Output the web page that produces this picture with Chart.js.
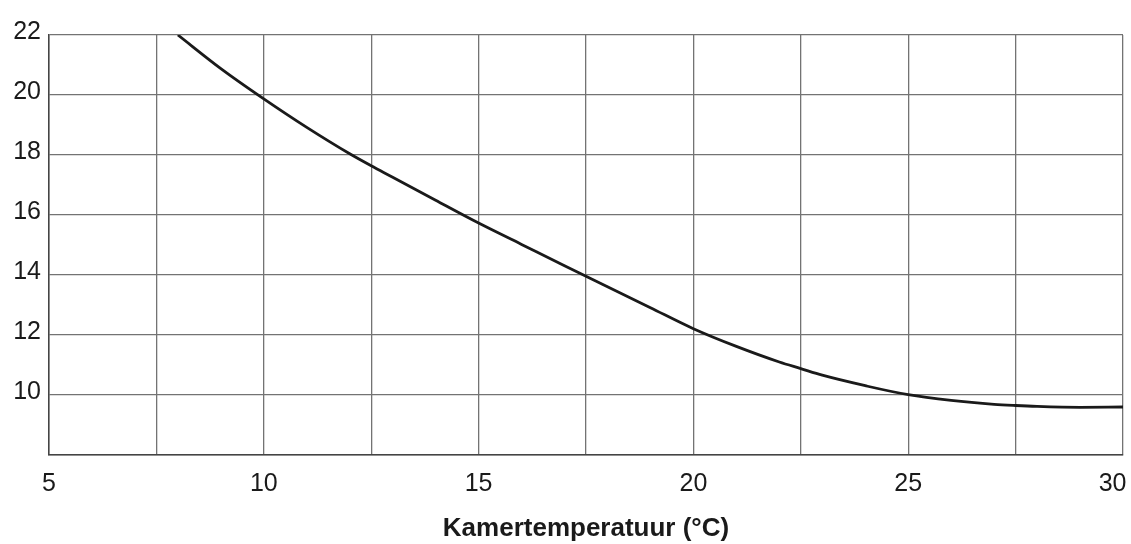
<!DOCTYPE html>
<html>
<head>
<meta charset="utf-8">
<script src="https://cdn.jsdelivr.net/npm/chart.js@4/dist/chart.umd.min.js"></script>
<style>
  html, body { margin: 0; padding: 0; background: #fff; }
  #wrap { width: 1131px; height: 544px; }
</style>
</head>
<body>
<div id="wrap"><canvas id="curveChart" width="1131" height="544"></canvas></div>
<script>
// room temperature (°C) and the curve read at those points
const roomTemp = [8, 9, 10, 11, 12, 12.5, 13, 14, 15, 16, 17, 17.5, 18, 19, 20, 21, 22, 22.5, 23, 24, 25, 26, 27, 27.5, 28, 29, 30];
const curveValues = [22.0, 20.88, 19.87, 18.92, 18.04, 17.64, 17.26, 16.49, 15.73, 15.02, 14.31, 13.96, 13.61, 12.91, 12.21, 11.62, 11.1, 10.88, 10.66, 10.31, 10.01, 9.82, 9.69, 9.65, 9.62, 9.59, 9.6];

// axis ranges and labelled ticks
const xMin = 5, xMax = 30, xStep = 2.5;
const xLabels = [5, 10, 15, 20, 25, 30];
const yMin = 8, yMax = 22, yStep = 2;
const yLabels = [10, 12, 14, 16, 18, 20, 22];

const axisTitle = 'Kamertemperatuur (°C)';

document.addEventListener('DOMContentLoaded', function(){
  const ctx = document.getElementById('curveChart').getContext('2d');
  const points = roomTemp.map((t, i) => ({ x: t, y: curveValues[i] }));

  new Chart(ctx, {
    type: 'line',
    data: {
      datasets: [{
        data: points,
        borderColor: '#1a1a1a',
        borderWidth: 2.8,
        pointRadius: 0,
        cubicInterpolationMode: 'monotone',
        fill: false
      }]
    },
    options: {
      responsive: false,
      animation: false,
      layout: { padding: { left: 0, right: 8, top: 35, bottom: 0 } },
      plugins: {
        legend: { display: false },
        tooltip: { enabled: false }
      },
      scales: {
        x: {
          type: 'linear',
          min: xMin,
          max: xMax,
          grid: { color: '#737373', lineWidth: 1.3, drawTicks: false },
          border: { color: '#444', width: 1.5 },
          ticks: {
            stepSize: xStep,
            padding: 14,
            color: '#1a1a1a',
            maxRotation: 0,
            autoSkip: false,
            font: { family: 'Liberation Sans, Arial, sans-serif', size: 25 },
            callback: function(v){
              if(!xLabels.includes(v)) return '';
              // keep the last label inside the canvas
              return v === xMax ? v + '   ' : String(v);
            }
          },
          title: {
            display: true,
            text: axisTitle,
            color: '#1a1a1a',
            padding: { top: 0, bottom: 0 },
            font: { family: 'Liberation Sans, Arial, sans-serif', size: 26, weight: 'bold' }
          },
          afterFit: function(scale){
            scale.height = 89;
            scale.paddingLeft = 0;
            scale.paddingRight = 0;
          }
        },
        y: {
          min: yMin,
          max: yMax,
          grid: { color: '#737373', lineWidth: 1.3, drawTicks: false },
          border: { color: '#444', width: 1.5 },
          ticks: {
            stepSize: yStep,
            padding: 8,
            labelOffset: -2.5,
            color: '#1a1a1a',
            font: { family: 'Liberation Sans, Arial, sans-serif', size: 25 },
            callback: function(v){
              return yLabels.includes(v) ? String(v) : '';
            }
          },
          afterFit: function(scale){
            scale.width = 49;
            scale.paddingTop = 0;
            scale.paddingBottom = 0;
          }
        }
      }
    }
  });
});
</script>
</body>
</html>
